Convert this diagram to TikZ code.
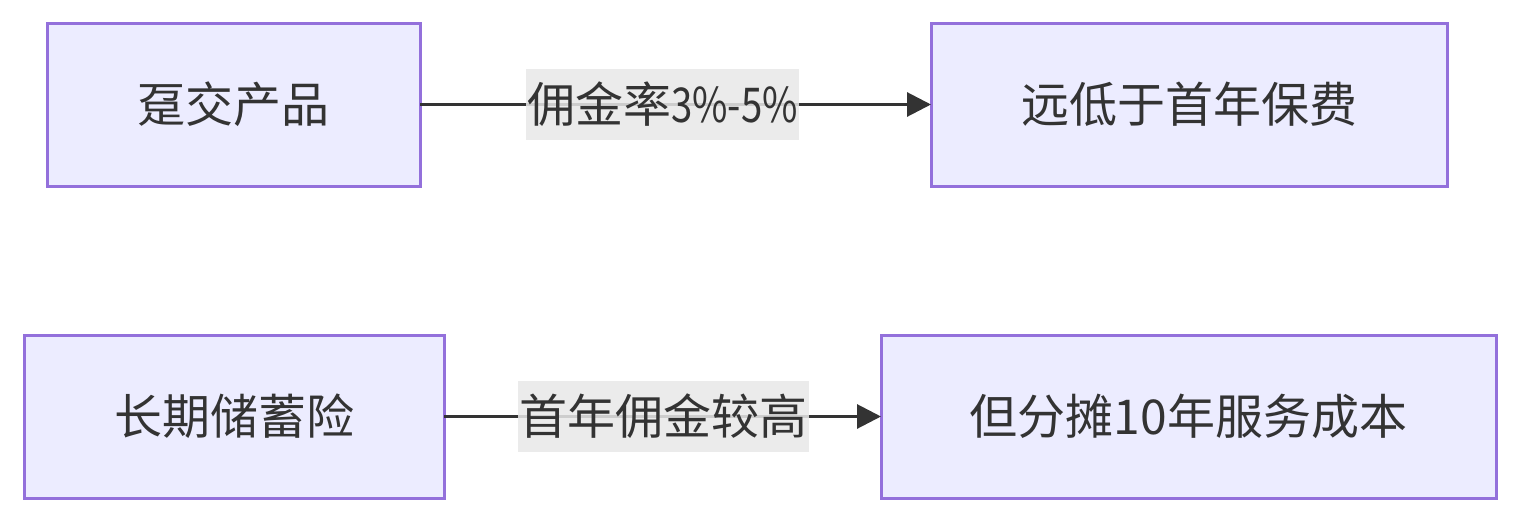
\documentclass[tikz,border=0pt]{standalone}
\usepackage{fontspec}
\setmainfont{Noto Sans CJK SC}
\usetikzlibrary{arrows.meta}
\definecolor{boxfill}{HTML}{ECECFF}
\definecolor{boxline}{HTML}{9370DB}
\definecolor{ink}{HTML}{333333}
\definecolor{lblbg}{HTML}{E8E8E8}
\tikzset{
  flowbox/.style={draw=boxline, fill=boxfill, line width=3pt, inner sep=0pt, outer sep=0pt,
    minimum height=163pt, text=ink, font=\fontsize{48}{60}\selectfont},
  edgelbl/.style={fill=lblbg, fill opacity=0.85, text opacity=1, text=ink, inner sep=0pt, outer sep=0pt,
    minimum height=71pt, inner xsep=1.5pt, font=\fontsize{48}{60}\selectfont},
  flowedge/.style={draw=ink, line width=3pt, -{Triangle[length=24pt,width=24pt]}},
}
\begin{document}
\begin{tikzpicture}[x=1pt,y=-1pt]
\useasboundingbox (0,0) rectangle (1520,522);
\node[flowbox, minimum width=373pt] (a) at (233.5,104.5) {趸交产品};
\node[flowbox, minimum width=516pt] (b) at (1189,104.5) {远低于首年保费};
\node[flowbox, minimum width=420pt] (c) at (234,416.5) {长期储蓄险};
\node[flowbox, minimum width=615pt] (d) at (1188.5,416.5) {但分摊10年服务成本};
\draw[flowedge] (a) -- (b);
\draw[flowedge] (c) -- (d);
\node[edgelbl] (la) at (662.5,104.5) {佣金率\scalebox{0.8}[1]{3\%-5\%}};
\node[edgelbl] (lc) at (663,416.5) {首年佣金较高};
\end{tikzpicture}
\end{document}
